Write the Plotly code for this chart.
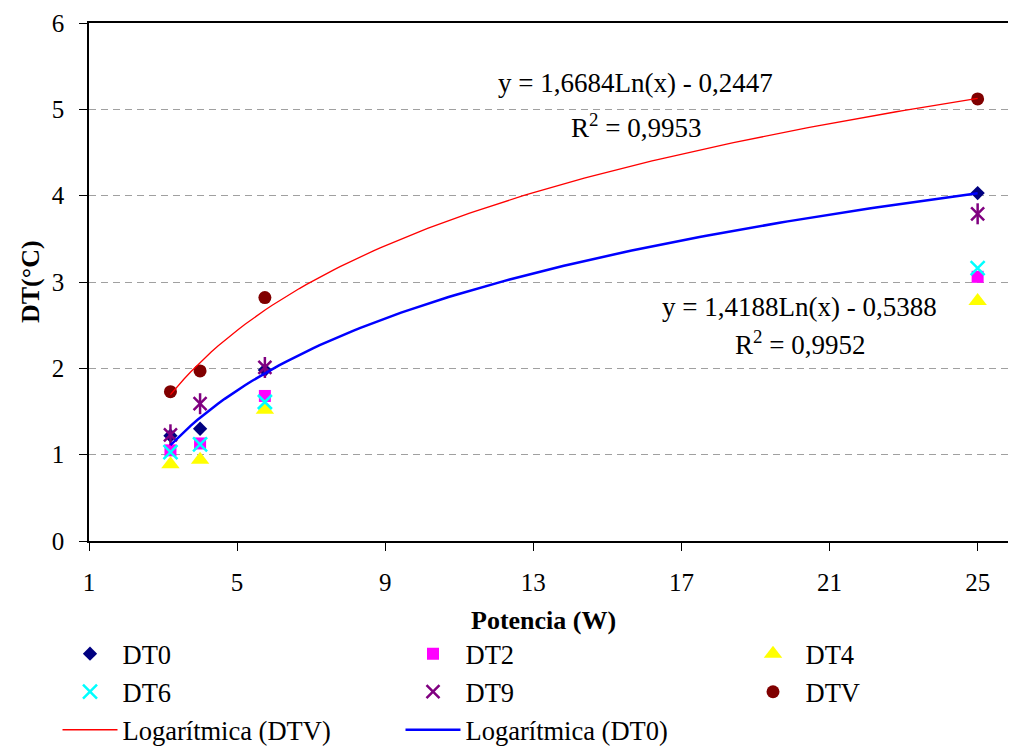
import numpy as np
import plotly.graph_objects as go

# ---- data ----
potencia = [3.2, 4.0, 5.75, 25.0]
DT0 = [1.22, 1.30, 1.98, 4.03]
DT2 = [1.05, 1.13, 1.68, 3.06]
DT4 = [0.89, 0.94, 1.52, 2.78]
DT6 = [1.03, 1.12, 1.61, 3.16]
DT9 = [1.23, 1.59, 2.01, 3.79]
DTV = [1.73, 1.97, 2.82, 5.12]

# logarithmic trendline coefficients shown on the chart: y = a*Ln(x) + b
trend_DTV = (1.6684, -0.2447, 0.9953)
trend_DT0 = (1.4188, -0.5388, 0.9952)

x_ticks = [1, 5, 9, 13, 17, 21, 25]
y_ticks = [0, 1, 2, 3, 4, 5, 6]

FONT = "Liberation Serif, Times New Roman, serif"
W, H = 1010, 749
ML, MR, MT, MB = 89, 2, 23, 208
PW, PH = W - ML - MR, H - MT - MB

def px2paper_x(px):
    return (px - ML) / PW

def px2paper_y(py):
    return (H - MB - py) / PH

# legend slot positions (left x of legend box, row centre y) in pixels
COLS = [57.5, 400.5, 740.5]
ROWS = [654, 692, 730]

fig = go.Figure()
legend_defs = {}

def leg(col, row):
    return dict(orientation="v", x=COLS[col] / W, xref="container", y=1 - ROWS[row] / H,
                yref="container", xanchor="left", yanchor="middle", itemwidth=55,
                font=dict(size=26.5, color="black", family=FONT),
                bgcolor="rgba(0,0,0,0)", borderwidth=0, itemclick=False)

def legname(i):
    return "legend" if i == 1 else f"legend{i}"

def pts(name, y, symbol, color, size, li, lw=0, showlegend=True):
    fig.add_trace(go.Scatter(
        x=potencia, y=y, mode="markers", name=name, legend=legname(li),
        showlegend=showlegend, legendgroup=name,
        marker=dict(symbol=symbol, color=color, size=size,
                    line=dict(width=lw, color=color)),
        hoverinfo="x+y+name"))

pts("DT0", DT0, "diamond", "#000080", 11, 1)
pts("DT2", DT2, "square", "#FF00FF", 12, 2)
pts("DT4", DT4, "triangle-up", "#FFFF00", 16, 3)
pts("DT6", DT6, "x-thin-open", "#00FFFF", 14, 4, lw=2.5)
pts("DT9", DT9, "x-thin-open", "#800080", 13, 5, lw=2.5)
pts("DT9", DT9, "line-ns-open", "#800080", 15, 5, lw=2.5, showlegend=False)
pts("DTV", DTV, "circle", "#800000", 13, 6)

xs = np.linspace(min(potencia), max(potencia), 120)
for li, name, coef, color, w in [(7, "Logarítmica (DTV)", trend_DTV, "#FF0000", 1.3),
                                 (8, "Logarítmica (DT0)", trend_DT0, "#0000FF", 2.5)]:
    a, b, _ = coef
    fig.add_trace(go.Scatter(x=xs, y=a * np.log(xs) + b, mode="lines", name=name,
                             legend=legname(li), line=dict(color=color, width=w),
                             hoverinfo="skip"))

slots = {1: (0, 0), 2: (1, 0), 3: (2, 0), 4: (0, 1), 5: (1, 1), 6: (2, 1), 7: (0, 2), 8: (1, 2)}
for i, (c, r) in slots.items():
    legend_defs[legname(i)] = leg(c, r)

def fmt(v, d=4):
    return f"{abs(v):.{d}f}".replace(".", ",")

def eq_text(coef):
    a, b, r2 = coef
    sign = "-" if b < 0 else "+"
    return f"y = {fmt(a)}Ln(x) {sign} {fmt(b)}", f"R<sup>2</sup> = {fmt(r2)}"

annos = []
for coef, xc, y1, y2 in [(trend_DTV, 15.77, 5.30, 4.81), (trend_DT0, 20.2, 2.707, 2.289)]:
    l1, l2 = eq_text(coef)
    annos.append(dict(x=xc, y=y1, xref="x", yref="y", text=l1, showarrow=False,
                      font=dict(size=27, color="black", family=FONT)))
    annos.append(dict(x=xc, y=y2, xref="x", yref="y", text=l2, showarrow=False,
                      font=dict(size=27, color="black", family=FONT)))

annos.append(dict(x=px2paper_x(30), y=0.5, xref="paper", yref="paper", text="<b>DT(°C)</b>",
                  textangle=-90, showarrow=False, xanchor="center", yanchor="middle",
                  font=dict(size=26, color="black", family=FONT)))
annos.append(dict(x=px2paper_x(543), y=px2paper_y(620), xref="paper", yref="paper",
                  text="<b>Potencia (W)</b>", showarrow=False, xanchor="center", yanchor="middle",
                  font=dict(size=26, color="black", family=FONT)))

fig.update_layout(
    width=W, height=H,
    margin=dict(l=ML, r=MR, t=MT, b=MB, pad=0, autoexpand=False),
    paper_bgcolor="white", plot_bgcolor="white",
    font=dict(family=FONT, size=25, color="black"),
    showlegend=True,
    annotations=annos,
    xaxis=dict(range=[1, 25.82], tickvals=x_ticks, ticktext=[str(v) for v in x_ticks],
               showgrid=False, zeroline=False, showline=True, linecolor="black",
               linewidth=1.5, mirror=True, ticks="outside", ticklen=8, tickcolor="black",
               tickfont=dict(size=25), ticklabelstandoff=10, automargin=False),
    yaxis=dict(range=[0, 6], tickvals=y_ticks, ticktext=[str(v) for v in y_ticks],
               showgrid=True, gridcolor="#A0A0A0", griddash="7px,5px", gridwidth=1,
               zeroline=False, showline=True, linecolor="black", linewidth=1.5,
               ticks="outside", ticklen=8, tickcolor="black",
               tickfont=dict(size=25), ticklabelstandoff=10, automargin=False),
    **legend_defs,
)

fig.write_html("out.html", config={"displayModeBar": False},
               post_script="document.body.style.margin='0';")
